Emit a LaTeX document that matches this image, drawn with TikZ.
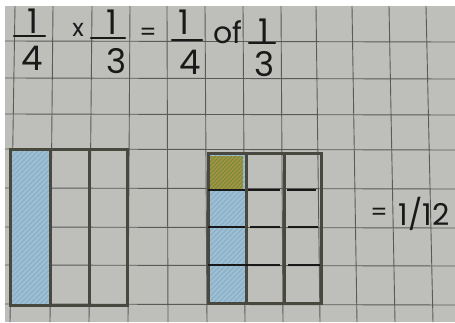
\documentclass[tikz,border=0pt]{standalone}
\usepackage{fontspec}
\setmainfont{Poppins}
\usetikzlibrary{calc}

\definecolor{paper}{RGB}{190,190,187}
\definecolor{gridgrey}{RGB}{90,90,88}
\definecolor{framegrey}{RGB}{72,72,62}
\definecolor{ink}{RGB}{25,25,25}
\definecolor{pencilblue}{RGB}{160,192,210}
\definecolor{hatchblue}{RGB}{135,176,202}
\definecolor{ochre}{RGB}{170,150,64}
\definecolor{hatchgreen}{RGB}{122,138,62}

\begin{document}
\begin{tikzpicture}[
    x=0.5pt, y=-0.5pt,
    gridline/.style={draw=gridgrey, line width=0.45pt},
    pen/.style={font=\fontsize{17}{17}\selectfont, text=ink, inner sep=0pt, anchor=center},
    smallpen/.style={font=\fontsize{12}{12}\selectfont, text=ink, inner sep=0pt, anchor=center},
    bar/.style={draw=ink, line width=1.1pt, line cap=round},
    frame/.style={draw=framegrey, line width=1.5pt},
    cut/.style={draw=ink, line width=1.1pt},
    hatch/.style={line width=0.6pt}
]
    \useasboundingbox (0,0) rectangle (455,322);
    \fill[white] (0,0) rectangle (455,322);
    \fill[paper] (5,6) rectangle (455,322);

    % squared paper
    \foreach \xt/\xb in {15/10, 53/50, 92/89, 130/128, 167/168, 205/207, 243/245, 281/283, 316/320, 352/357, 389/395, 426/433}
        \draw[gridline] (\xt,6) -- (\xb,322);
    \foreach \y in {41, 78, 114, 149, 188, 227, 265, 304}
        \draw[gridline] (5,\y) -- (455,\y+1);

    % the sum
    \node[pen] (num1) at (33,21) {1};
    \node[pen] (den1) at (32,58) {4};
    \draw[bar] (14,36) -- (45,36);
    \node[smallpen] (times) at (78,30) {x};
    \node[pen] (num2) at (112,22) {1};
    \node[pen] (den2) at (117,61) {3};
    \draw[bar] (91,38) -- (125,38);
    \node[smallpen] (equals) at (148,34) {=};
    \node[pen] (num3) at (184,22) {1};
    \node[pen] (den3) at (190,62) {4};
    \draw[bar] (172,40) -- (202,40);
    \node[pen, font=\fontsize{15}{15}\selectfont] (of) at (228,32) {of};
    \node[pen] (num4) at (264,31) {1};
    \node[pen] (den4) at (265,64) {3};
    \draw[bar] (249,43) -- (275,43);

    % one third
    \fill[pencilblue] (10,149) rectangle (50,305);
    \begin{scope}
        \clip (10,149) rectangle (50,305);
        \foreach \k in {0,5,...,200}
            \draw[hatch, hatchblue] (10,149+\k) -- ++(40,-40);
    \end{scope}
    \draw[frame] (10,149) rectangle (127,305);
    \draw[frame] (50,149) -- (50,305);
    \draw[frame] (89,149) -- (89,305);

    % a quarter of one third
    \fill[pencilblue] (208,153) rectangle (246,303);
    \begin{scope}
        \clip (208,153) rectangle (246,303);
        \foreach \k in {0,5,...,200}
            \draw[hatch, hatchblue] (208,153+\k) -- ++(38,-38);
    \end{scope}
    \fill[ochre] (208,156) rectangle (243,189);
    \begin{scope}
        \clip (208,156) rectangle (243,189);
        \foreach \k in {0,4,...,80}
            \draw[hatch, hatchgreen] (208,156+\k) -- ++(36,-36);
    \end{scope}
    \draw[frame] (208,153) rectangle (321,303);
    \draw[frame] (246,153) -- (246,303);
    \draw[frame] (284,153) -- (284,303);
    \draw[cut] (208,190) -- (245,190) (248,190) -- (280,190) (287,190) -- (316,190);
    \draw[cut] (208,227) -- (245,227) (250,227) -- (280,227) (288,227) -- (318,227);
    \draw[cut] (208,265) -- (280,265) (288,265) -- (320,265);

    % answer
    \node[smallpen] (eqans) at (379,214) {=};
    \node[pen, font=\fontsize{15}{15}\selectfont] (answer) at (424,214) {1/12};
\end{tikzpicture}
\end{document}
